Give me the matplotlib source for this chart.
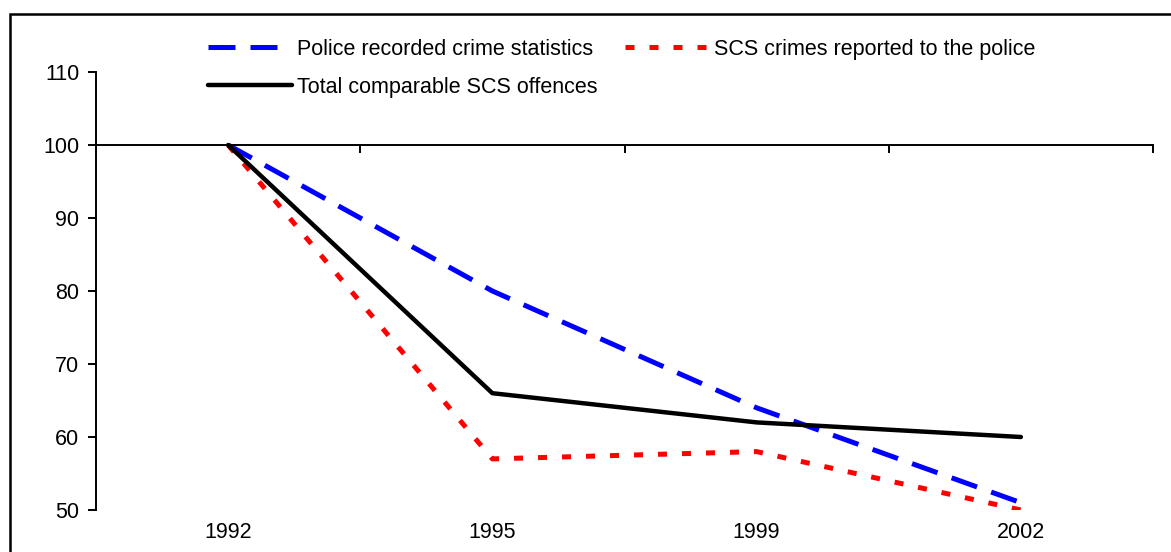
import matplotlib
matplotlib.use("Agg")
import matplotlib.pyplot as plt
from matplotlib.patches import Rectangle
import matplotlib.transforms as mtransforms

plt.rcParams['font.family'] = ['Liberation Sans', 'DejaVu Sans']

years = ["1992", "1995", "1999", "2002"]
police_recorded = [100, 80, 64, 51]
scs_reported = [100, 57, 58, 50]
total_scs = [100, 66, 62, 60]
yticks = [50, 60, 70, 80, 90, 100, 110]

W, H = 1171, 552
fig = plt.figure(figsize=(W / 100, H / 100), dpi=100)
ax = fig.add_axes([96 / W, 1 - 510 / H, (1153 - 96) / W, (510 - 72) / H])

x = list(range(len(years)))
l1, = ax.plot(x, police_recorded, color='#0000ff', lw=3.6, dashes=(5.4, 3.0),
              dash_capstyle='butt', solid_joinstyle='round',
              label='Police recorded crime statistics')
l2, = ax.plot(x, scs_reported, color='#ff0000', lw=3.6, dashes=(1.8, 3.0),
              dash_capstyle='butt', label='SCS crimes reported to the police')
l3, = ax.plot(x, total_scs, color='black', lw=3.2, solid_capstyle='round',
              label='Total comparable SCS offences')

ax.set_xlim(-0.5, len(years) - 0.5)
ax.set_ylim(50, 110)
ax.set_yticks(yticks)
ax.set_yticklabels([str(v) for v in yticks])

# x axis crosses at 100, ticks at category boundaries
ax.spines['bottom'].set_position(('data', 100))
ax.spines['top'].set_visible(False)
ax.spines['right'].set_visible(False)
for s in ('left', 'bottom'):
    ax.spines[s].set_linewidth(1.4)
ax.set_xticks([i - 0.5 for i in range(len(years) + 1)])
ax.set_xticklabels([])
ax.tick_params(axis='x', direction='out', length=6, width=1.4)
ax.tick_params(axis='y', direction='out', length=6, width=1.4, labelsize=15.5, pad=6)

trans = mtransforms.blended_transform_factory(ax.transData, ax.transAxes)
for i, yr in enumerate(years):
    ax.text(i, -0.052, yr, transform=trans, ha='center', va='center', fontsize=15.5)

fig.legend(handles=[l1, l3, l2], loc='upper left', ncol=2,
           bbox_to_anchor=(208 / W, 1 - 39 / H), frameon=False,
           fontsize=15.5, handlelength=3.9, handletextpad=0.22,
           columnspacing=1.3, labelspacing=0.78, borderpad=0, borderaxespad=0)

fig.patches.append(Rectangle((10 / W, -0.1), 1.2, 1 - 14 / H + 0.1,
                             transform=fig.transFigure, fill=False,
                             edgecolor='black', lw=1.8))

fig.savefig('out.png', dpi=100)
